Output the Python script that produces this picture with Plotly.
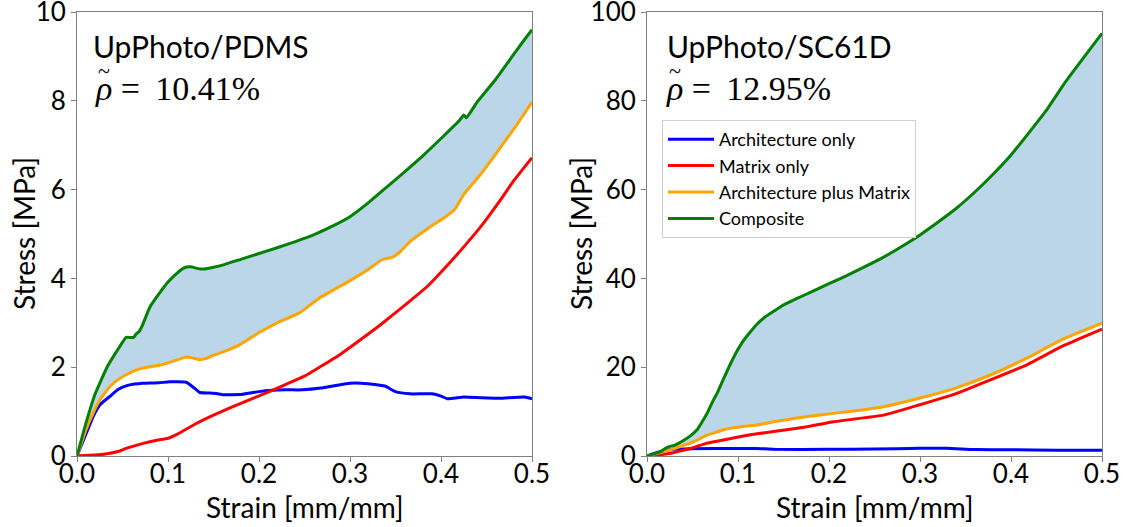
import plotly.graph_objects as go

# ---------------- Left panel: UpPhoto/PDMS ----------------
green_L_x = [0, 0.01, 0.02, 0.033, 0.045, 0.054, 0.062, 0.065, 0.068, 0.072, 0.08, 0.09, 0.1, 0.11, 0.118,
             0.125, 0.133, 0.14, 0.15, 0.16, 0.18, 0.2, 0.22, 0.24, 0.26, 0.28, 0.3, 0.32, 0.34, 0.36, 0.38,
             0.4, 0.42, 0.425, 0.428, 0.44, 0.46, 0.48, 0.49, 0.5]
green_L_y = [0, 0.75, 1.4, 2.0, 2.4, 2.67, 2.67, 2.75, 2.8, 2.95, 3.35, 3.65, 3.92, 4.12, 4.24,
             4.26, 4.22, 4.21, 4.25, 4.30, 4.43, 4.56, 4.69, 4.83, 4.98, 5.17, 5.39, 5.7, 6.05, 6.4, 6.76,
             7.15, 7.55, 7.68, 7.62, 7.98, 8.48, 9.05, 9.33, 9.6]

orange_L_x = [0, 0.01, 0.018, 0.025, 0.036, 0.045, 0.054, 0.063, 0.072, 0.083, 0.094, 0.105, 0.115, 0.12,
              0.127, 0.135, 0.142, 0.15, 0.157, 0.165, 0.18, 0.2, 0.22, 0.245, 0.268, 0.3, 0.32, 0.335,
              0.347, 0.355, 0.366, 0.386, 0.405, 0.415, 0.425, 0.445, 0.464, 0.484, 0.5]
orange_L_y = [0, 0.6, 0.98, 1.26, 1.56, 1.72, 1.83, 1.92, 1.98, 2.02, 2.06, 2.13, 2.2, 2.23,
              2.21, 2.17, 2.2, 2.27, 2.32, 2.38, 2.52, 2.78, 3.0, 3.23, 3.58, 3.95, 4.2, 4.42,
              4.48, 4.6, 4.83, 5.13, 5.39, 5.55, 5.89, 6.38, 6.91, 7.48, 7.97]

blue_L_x = [0, 0.01, 0.018, 0.025, 0.036, 0.045, 0.054, 0.063, 0.072, 0.09, 0.102, 0.12, 0.127, 0.135,
            0.145, 0.153, 0.16, 0.17, 0.182, 0.2, 0.215, 0.229, 0.248, 0.268, 0.3, 0.32, 0.331, 0.339,
            0.35, 0.366, 0.39, 0.4, 0.407, 0.425, 0.445, 0.464, 0.492, 0.5]
blue_L_y = [0, 0.5, 0.9, 1.15, 1.34, 1.5, 1.58, 1.62, 1.64, 1.65, 1.67, 1.66, 1.56, 1.43,
            1.42, 1.41, 1.38, 1.38, 1.39, 1.45, 1.48, 1.49, 1.49, 1.53, 1.64, 1.63, 1.6, 1.57,
            1.45, 1.40, 1.40, 1.35, 1.29, 1.33, 1.31, 1.30, 1.33, 1.29]

red_L_x = [0, 0.02, 0.033, 0.045, 0.054, 0.065, 0.08, 0.095, 0.1, 0.111, 0.13, 0.15, 0.17, 0.19, 0.21,
           0.229, 0.25, 0.268, 0.29, 0.307, 0.33, 0.346, 0.37, 0.386, 0.405, 0.425, 0.445, 0.464, 0.48, 0.5]
red_L_y = [0, 0.02, 0.05, 0.1, 0.17, 0.24, 0.32, 0.38, 0.4, 0.5, 0.72, 0.92, 1.1, 1.27, 1.44,
           1.61, 1.8, 2.02, 2.3, 2.55, 2.9, 3.16, 3.56, 3.84, 4.25, 4.71, 5.2, 5.73, 6.2, 6.72]

# ---------------- Right panel: UpPhoto/SC61D ----------------
green_R_x = [0, 0.015, 0.0225, 0.03, 0.04, 0.048, 0.055, 0.06, 0.066, 0.072, 0.077, 0.082, 0.09, 0.098,
             0.105, 0.113, 0.12, 0.129, 0.14, 0.149, 0.165, 0.18, 0.2, 0.22, 0.24, 0.26, 0.28, 0.3, 0.32,
             0.34, 0.36, 0.38, 0.4, 0.42, 0.44, 0.46, 0.48, 0.5]
green_R_y = [0, 1.0, 2.0, 2.4, 3.5, 4.6, 5.9, 7.5, 9.6, 12.2, 14.1, 16.4, 20.0, 23.3,
             25.7, 27.8, 29.5, 31.2, 32.7, 33.9, 35.5, 36.9, 38.8, 40.7, 42.7, 44.8, 47.2, 49.8, 52.7,
             55.8, 59.4, 63.4, 67.8, 72.9, 78.2, 84.3, 89.8, 95.2]

orange_R_x = [0, 0.015, 0.029, 0.04, 0.048, 0.057, 0.066, 0.075, 0.084, 0.093, 0.103, 0.112, 0.121,
              0.139, 0.157, 0.176, 0.205, 0.23, 0.26, 0.299, 0.339, 0.378, 0.418, 0.457, 0.5]
orange_R_y = [0, 0.8, 1.6, 2.4, 2.9, 3.8, 4.7, 5.3, 5.9, 6.3, 6.6, 6.8, 7.0,
              7.7, 8.3, 8.9, 9.6, 10.2, 11.1, 13.0, 15.3, 18.3, 22.1, 26.3, 29.9]

red_R_x = [0, 0.011, 0.029, 0.04, 0.048, 0.057, 0.066, 0.084, 0.103, 0.121, 0.139, 0.176, 0.205, 0.26,
           0.299, 0.339, 0.378, 0.418, 0.457, 0.5]
red_R_y = [0, 0.2, 0.75, 1.3, 1.7, 2.3, 2.9, 3.6, 4.4, 5.0, 5.5, 6.6, 7.7, 9.2,
           11.5, 14.0, 17.2, 20.6, 24.8, 28.6]

blue_R_x = [0, 0.015, 0.029, 0.048, 0.1, 0.12, 0.14, 0.2, 0.25, 0.3, 0.33, 0.36, 0.4, 0.45, 0.5]
blue_R_y = [0, 1.0, 1.5, 1.65, 1.7, 1.7, 1.5, 1.5, 1.55, 1.75, 1.75, 1.45, 1.4, 1.3, 1.3]

x_ticks = [0, 0.1, 0.2, 0.3, 0.4, 0.5]
y_ticks_L = [0, 2, 4, 6, 8, 10]
y_ticks_R = [0, 20, 40, 60, 80, 100]

names = ["Architecture only", "Matrix only", "Architecture plus Matrix", "Composite"]
colors = ["#0000ff", "#ff0000", "#ffa500", "#008000"]
fill_color = "rgba(31,119,180,0.3)"

FONT = "Lato"
W, H = 1123, 527
ML, MR, MT, MB = 77, 21, 12, 71
PW, PH = W - ML - MR, H - MT - MB


def px(xpix):
    return (xpix - ML) / PW


def py(ypix):
    return (H - MB - ypix) / PH


fig = go.Figure()

panels = [
    ("x", "y", (blue_L_x, blue_L_y), (red_L_x, red_L_y), (orange_L_x, orange_L_y), (green_L_x, green_L_y), False),
    ("x2", "y2", (blue_R_x, blue_R_y), (red_R_x, red_R_y), (orange_R_x, orange_R_y), (green_R_x, green_R_y), True),
]

for xa, ya, b, r, o, g, show in panels:
    fig.add_trace(go.Scatter(
        x=list(g[0]) + list(o[0])[::-1], y=list(g[1]) + list(o[1])[::-1],
        xaxis=xa, yaxis=ya, mode="lines", fill="toself", fillcolor=fill_color,
        line=dict(width=0, shape="spline", smoothing=0.4), hoverinfo="skip", showlegend=False))
    for (sx, sy), name, col in zip([b, r, o, g], names, colors):
        fig.add_trace(go.Scatter(x=sx, y=sy, xaxis=xa, yaxis=ya, mode="lines", name=name,
                                 line=dict(color=col, width=3, shape="spline", smoothing=0.4),
                                 showlegend=show))

axis_common = dict(showgrid=False, zeroline=False, showline=True, mirror=True, linecolor="#808080",
                   linewidth=1, ticks="outside", ticklen=5, tickcolor="#808080", automargin=False,
                   ticklabeloverflow="allow",
                   tickfont=dict(family=FONT, size=26, color="black"))

fig.update_layout(
    width=W, height=H, autosize=False,
    margin=dict(l=ML, r=MR, t=MT, b=MB, autoexpand=False),
    paper_bgcolor="white", plot_bgcolor="white",
    xaxis=dict(domain=[0, 455 / PW], range=[0, 0.5], tickvals=x_ticks, tickformat=".1f",
               ticklabelstandoff=-10, anchor="y", **axis_common),
    yaxis=dict(domain=[0, 1], range=[0, 10], tickvals=y_ticks_L, anchor="x", **axis_common),
    xaxis2=dict(domain=[px(647), 1], range=[0, 0.5], tickvals=x_ticks, tickformat=".1f",
                ticklabelstandoff=-10, anchor="y2", **axis_common),
    yaxis2=dict(domain=[0, 1], range=[0, 100], tickvals=y_ticks_R, anchor="x2", **axis_common),
    legend=dict(x=px(662), y=py(120), xref="paper", yref="paper", xanchor="left", yanchor="top",
                bgcolor="white", bordercolor="#d0d0d0", borderwidth=1,
                font=dict(family=FONT, size=18, color="black"), tracegroupgap=0, itemwidth=46),
    showlegend=True,
)

title_font = dict(family=FONT, size=28, color="black")
texts = [
    dict(text="Strain [mm/mm]", x=304.5, y=507, font=title_font, angle=0, xa="center"),
    dict(text="Strain [mm/mm]", x=874.5, y=507, font=title_font, angle=0, xa="center"),
    dict(text="Stress [MPa]", x=24, y=234, font=title_font, angle=-90, xa="center"),
    dict(text="Stress [MPa]", x=581, y=234, font=title_font, angle=-90, xa="center"),
    dict(text="UpPhoto/PDMS", x=91, y=46, font=dict(family=FONT, size=30, color="black"), angle=0, xa="left"),
    dict(text="<i>ρ</i> =\u2009 10.41%", x=93, y=88,
         font=dict(family="Liberation Serif", size=34, color="black"), angle=0, xa="left"),
    dict(text="~", x=96, y=71, font=dict(family="Liberation Serif", size=22, color="black"), angle=0, xa="left"),
    dict(text="UpPhoto/SC61D", x=665, y=46, font=dict(family=FONT, size=30, color="black"), angle=0, xa="left"),
    dict(text="<i>ρ</i> =\u2009 12.95%", x=664, y=88,
         font=dict(family="Liberation Serif", size=34, color="black"), angle=0, xa="left"),
    dict(text="~", x=667, y=71, font=dict(family="Liberation Serif", size=22, color="black"), angle=0, xa="left"),
]
for a in texts:
    fig.add_annotation(xref="paper", yref="paper", xanchor=a["xa"], yanchor="middle", showarrow=False,
                       text=a["text"], x=px(a["x"]), y=py(a["y"]), font=a["font"], textangle=a["angle"])

fig.write_html("out.html")
